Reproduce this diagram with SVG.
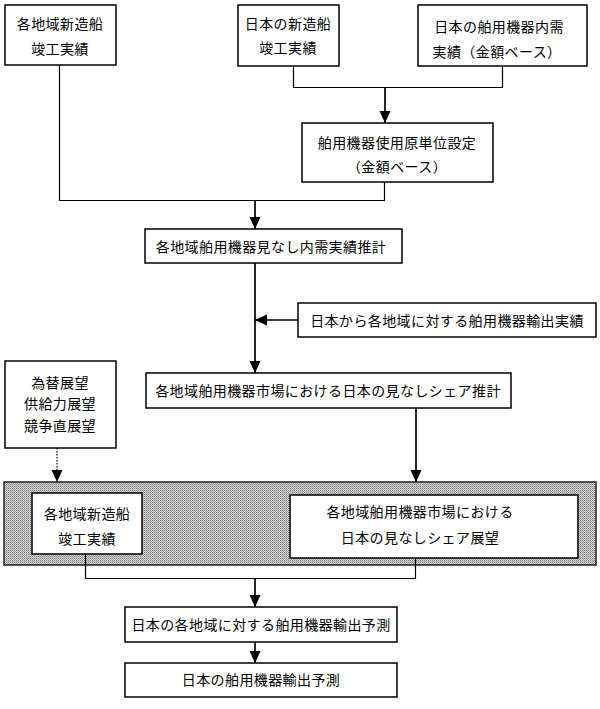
<svg xmlns="http://www.w3.org/2000/svg" width="600" height="709" viewBox="0 0 600 709">
<style>
.box{fill:#fff;stroke:#000;stroke-width:1.5}
.t{font-family:"Noto Sans CJK JP","Noto Sans CJK SC",sans-serif;font-size:14px;letter-spacing:0.4px;fill:#000;text-anchor:middle}
.ln{fill:none;stroke:#000;stroke-width:1.2}
.ar{fill:none;stroke:#000;stroke-width:1.7;marker-end:url(#ah)}
.dot{fill:none;stroke:#000;stroke-width:1.2;stroke-dasharray:1.5,1.5;marker-end:url(#ah)}
</style>
<defs>
<marker id="ah" markerUnits="userSpaceOnUse" markerWidth="12" markerHeight="12" viewBox="0 0 12 12" refX="12" refY="6" orient="auto">
<path d="M0,0.5 L12,6 L0,11.5 Z" fill="#000"/>
</marker>
<pattern id="ht" width="2" height="2" patternUnits="userSpaceOnUse">
<rect width="2" height="2" fill="#d8d8d8"/>
<rect width="1" height="1" fill="#7a7a7a"/>
<rect x="1" y="1" width="1" height="1" fill="#a0a0a0"/>
</pattern>
</defs>
<rect width="600" height="709" fill="#fff"/>

<g id="band"><rect x="4" y="482" width="592" height="83" fill="url(#ht)" stroke="#222" stroke-width="1.5"/></g>

<g id="connectors">
<polyline class="ln" points="293.5,66 293.5,87.5 502.5,87.5 502.5,66"/>
<line class="ar" x1="385" y1="87" x2="385" y2="123"/>
<polyline class="ln" points="59.5,65 59.5,200.5 384.5,200.5 384.5,182"/>
<line class="ar" x1="255" y1="200" x2="255" y2="229"/>
<line class="ar" x1="255" y1="263" x2="255" y2="373"/>
<line class="ar" x1="298" y1="320" x2="255" y2="320"/>
<line class="dot" x1="57" y1="448" x2="57" y2="482"/>
<line class="ar" x1="416" y1="408" x2="416" y2="482"/>
<polyline class="ln" points="85.5,554 85.5,578.5 415.5,578.5 415.5,558"/>
<line class="ar" x1="255" y1="578" x2="255" y2="607"/>
<line class="ar" x1="255" y1="642" x2="255" y2="663"/>
</g>

<g id="n1"><rect class="box" x="5" y="5" width="111" height="60"/>
<text class="t" x="60" y="29">各地域新造船</text><text class="t" x="60" y="54">竣工実績</text></g>
<g id="n2"><rect class="box" x="238" y="5" width="101" height="61"/>
<text class="t" x="288" y="29">日本の新造船</text><text class="t" x="288" y="53">竣工実績</text></g>
<g id="n3"><rect class="box" x="418" y="5" width="169" height="61"/>
<text class="t" x="499" y="32">日本の舶用機器内需</text><text class="t" x="497" y="57">実績（金額ベース）</text></g>
<g id="n4"><rect class="box" x="302" y="123" width="191" height="59"/>
<text class="t" x="397" y="148">舶用機器使用原単位設定</text><text class="t" x="397" y="172">（金額ベース）</text></g>
<g id="n5"><rect class="box" x="145" y="229" width="257" height="34"/>
<text class="t" x="271" y="252">各地域舶用機器見なし内需実績推計</text></g>
<g id="n6"><rect class="box" x="298" y="303" width="298" height="34"/>
<text class="t" x="447" y="326">日本から各地域に対する舶用機器輸出実績</text></g>
<g id="n7"><rect class="box" x="146" y="373" width="365" height="35"/>
<text class="t" x="328" y="396">各地域舶用機器市場における日本の見なしシェア推計</text></g>
<g id="n8"><rect class="box" x="5" y="361" width="111" height="87"/>
<text class="t" x="60" y="388">為替展望</text><text class="t" x="60" y="409">供給力展望</text><text class="t" x="60" y="431">競争直展望</text></g>
<g id="n9"><rect class="box" x="32" y="493" width="110" height="61"/>
<text class="t" x="87" y="519">各地域新造船</text><text class="t" x="87" y="544">竣工実績</text></g>
<g id="n10"><rect class="box" x="290" y="495" width="288" height="63"/>
<text class="t" x="420" y="517">各地域舶用機器市場における</text><text class="t" x="420" y="543">日本の見なしシェア展望</text></g>
<g id="n11"><rect class="box" x="125" y="607" width="272" height="35"/>
<text class="t" x="261" y="630">日本の各地域に対する舶用機器輸出予測</text></g>
<g id="n12"><rect class="box" x="125" y="663" width="272" height="34"/>
<text class="t" x="261" y="685">日本の舶用機器輸出予測</text></g>
</svg>
